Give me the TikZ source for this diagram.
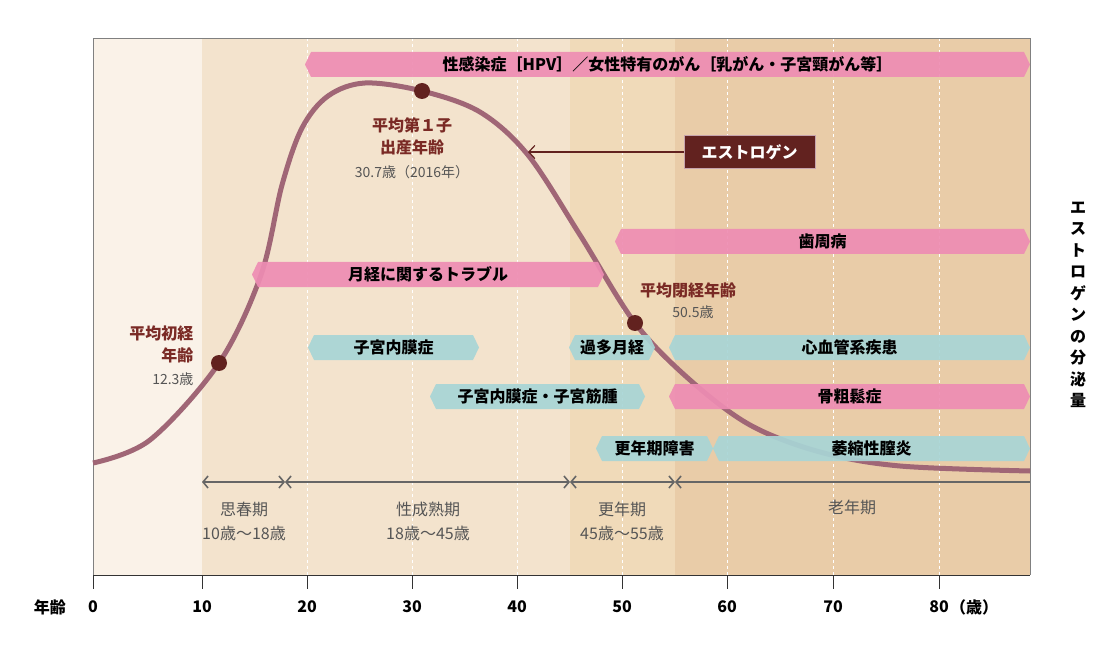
\documentclass[tikz,border=0pt]{standalone}
\usepackage{fontspec}
\setmainfont{Noto Sans CJK JP}
\usetikzlibrary{arrows.meta}
\definecolor{bgA}{HTML}{FAF2E8}\definecolor{bgB}{HTML}{F3E3CD}\definecolor{bgC}{HTML}{F0DAB9}\definecolor{bgD}{HTML}{E9CCA8}
\definecolor{pinkb}{HTML}{EE8DB3}\definecolor{tealb}{HTML}{A8D5D6}\definecolor{dred}{HTML}{62221F}
\definecolor{curvec}{HTML}{A06676}\definecolor{lblred}{HTML}{7A2A25}\definecolor{gtx}{HTML}{555555}
\tikzset{x=1pt,y=-1pt,
 lbl/.style={font=\bfseries\fontsize{16}{18}\selectfont,text=black},
 dotm/.style={circle,fill=dred,inner sep=0pt,minimum size=16pt},
 per/.style={draw=gtx!90,line width=1.6pt,{Straight Barb[length=5pt,width=12pt]}-{Straight Barb[length=5pt,width=12pt]}}}
\newcommand{\sbar}[5]{% x1 x2 y1 color text
 \fill[#4,opacity=.92] (#1,#3+12.5) -- (#1+6,#3) -- (#2-6,#3) -- (#2,#3+12.5) -- (#2-6,#3+25) -- (#1+6,#3+25) -- cycle;
 \node[lbl] at ({(#1+#2)/2},#3+12.5) {#5};}
\begin{document}
\begin{tikzpicture}
\useasboundingbox (0,0) rectangle (1114,647);
\fill[bgA] (93,38) rectangle (202,575);
\fill[bgB] (202,38) rectangle (570,575);
\fill[bgC] (570,38) rectangle (675,575);
\fill[bgD] (675,38) rectangle (1030,575);
\foreach \x in {307,412,517,622,727,833,939} \draw[white,dashed,line width=1pt] (\x,38) -- (\x,575);
\draw[gray,line width=0.8pt] (93,575) -- (93,38) -- (1030,38) -- (1030,575);
% curve
\draw[curvec,line width=5pt] plot[smooth,tension=0.55] coordinates {(93,463) (150,440) (219,363) (261,275) (282,185) (302,128) (328,96) (365,83) (422,91) (480,112) (528,155) (580,235) (635,323) (690,380) (750,425) (820,452) (900,466) (1030,471)};
% bars
\sbar{305}{1030}{52}{pinkb}{性感染症［HPV］／女性特有のがん［乳がん・子宮頸がん等］}
\sbar{615}{1030}{229}{pinkb}{歯周病}
\sbar{252}{604}{262}{pinkb}{月経に関するトラブル}
\sbar{308}{479}{335}{tealb}{子宮内膜症}
\sbar{569}{655}{335}{tealb}{過多月経}
\sbar{669}{1030}{335}{tealb}{心血管系疾患}
\sbar{430}{645}{384}{tealb}{子宮内膜症・子宮筋腫}
\sbar{669}{1030}{384}{pinkb}{骨粗鬆症}
\sbar{596}{713}{436}{tealb}{更年期障害}
\sbar{713}{1030}{436}{tealb}{萎縮性膣炎}
% dots and labels
\node[dotm] (d1) at (219,363) {};
\node[dotm] (d2) at (422,91) {};
\node[dotm] (d3) at (635,323) {};
\node[font=\bfseries\fontsize{16}{22}\selectfont,text=lblred,align=center] (l2) at (412,136) {平均第１子\\出産年齢};
\node[font=\fontsize{14}{16}\selectfont,text=gtx] (l2b) at (412,172) {30.7歳（2016年）};
\node[font=\bfseries\fontsize{16}{22}\selectfont,text=lblred,align=right,anchor=east] (l1) at (197,344) {平均初経\\年齢};
\node[font=\fontsize{14}{16}\selectfont,text=gtx,anchor=east] (l1b) at (197,379) {12.3歳};
\node[font=\bfseries\fontsize{16}{18}\selectfont,text=lblred] (l3) at (688,290) {平均閉経年齢};
\node[font=\fontsize{14}{16}\selectfont,text=gtx] (l3b) at (693,312) {50.5歳};
\node[fill=dred,draw=curvec!60,text=white,font=\bfseries\fontsize{16}{18}\selectfont,minimum width=131pt,minimum height=33pt] (est) at (749.5,152) {エストロゲン};
\coordinate (ea) at (528,152);
\draw[dred,line width=1.2pt,-{Straight Barb[length=6pt,width=13pt]}] (est.west) -- (ea);
% periods
\coordinate (p0) at (202,482);\coordinate (p1) at (285,482);\coordinate (p2) at (570,482);\coordinate (p3) at (675,482);\coordinate (p4) at (1030,482);
\draw[per] (p0) -- (p1); \draw[per] (p1) -- (p2); \draw[per] (p2) -- (p3);
\draw[gtx!90,line width=1.6pt,{Straight Barb[length=5pt,width=12pt]}-] (p3) -- (p4);
\tikzset{pl/.style={font=\fontsize{16}{24}\selectfont,text=gtx,align=center}}
\node[pl] at (244,521) {思春期\\10歳～18歳};
\node[pl] at (428,521) {性成熟期\\18歳～45歳};
\node[pl] at (622,521) {更年期\\45歳～55歳};
\node[pl,anchor=north] at (852,496) {老年期};
% axis
\draw[black!80,line width=1pt] (93,575) -- (1030,575);
\foreach \x/\t in {93/0,202/10,307/20,412/30,517/40,622/50,727/60,833/70,939/80} {
 \draw[black!80,line width=1pt] (\x,575) -- (\x,589);
 \node[font=\bfseries\fontsize{16}{18}\selectfont] at (\x,607) {\t};}
\node[font=\bfseries\fontsize{16}{18}\selectfont,anchor=west,inner sep=0pt] at (950,607) {（歳）};
\node[font=\bfseries\fontsize{16}{18}\selectfont] at (50,607) {年齢};
\node[font=\bfseries\fontsize{16}{21.5}\selectfont,align=center] at (1078,305) {エ\\ス\\ト\\ロ\\ゲ\\ン\\の\\分\\泌\\量};
\end{tikzpicture}
\end{document}
